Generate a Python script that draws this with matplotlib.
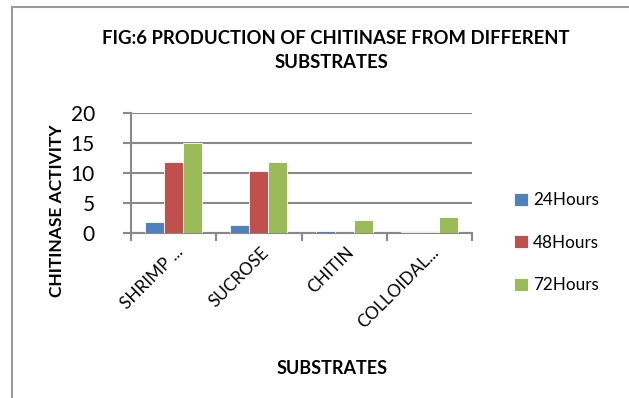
import matplotlib
matplotlib.use("Agg")
import matplotlib.pyplot as plt
from matplotlib.lines import Line2D
import matplotlib.transforms as mtransforms
import numpy as np

plt.rcParams['font.family'] = ['Lato', 'DejaVu Sans']

categories = ["SHRIMP ...", "SUCROSE", "CHITIN", "COLLOIDAL..."]
series_names = ["24Hours", "48Hours", "72Hours"]
h24 = [1.8, 1.3, 0.35, 0.25]
h48 = [11.9, 10.4, 0.0, 0.1]
h72 = [15.0, 11.8, 2.2, 2.6]
yticks = [0, 5, 10, 15, 20]
colors = ["#4F81BD", "#C0504D", "#9BBB59"]

W, H = 629, 398
fig = plt.figure(figsize=(W / 100, H / 100), dpi=100)
fig.patch.set_facecolor("white")

# chart border (left and top visible)
fig.add_artist(Line2D([11.5 / W, 11.5 / W], [0, 1 - 7 / H], color="#9a9a9a", lw=1.5))
fig.add_artist(Line2D([11.5 / W, 1], [1 - 7 / H, 1 - 7 / H], color="#9a9a9a", lw=1.5))

ax = fig.add_axes([131 / W, 1 - 233 / H, (472 - 131) / W, (233 - 113) / H])

n = len(categories)
x = np.arange(n) + 0.5
bw = 1 / 4.5
for i, (vals, c) in enumerate(zip([h24, h48, h72], colors)):
    ax.bar(x + (i - 1) * bw, vals, width=bw, color=c, edgecolor="white",
           linewidth=0.6, zorder=3, label=series_names[i])

ax.set_xlim(0, n)
ax.set_ylim(0, 20)
ax.set_yticks(yticks)
ax.set_yticklabels([str(v) for v in yticks], fontsize=15)
ax.yaxis.grid(True, color="#888888", lw=1.5, zorder=0)
ax.set_axisbelow(True)

ax.set_xticks(np.arange(n + 1))
ax.set_xticklabels([])
ax.set_xticks(x, minor=True)
ax.set_xticklabels(categories, minor=True, rotation=45, ha="right",
                   va="center", rotation_mode="anchor", fontsize=12.3)
ax.tick_params(axis="x", which="minor", length=0, pad=12)
ax.tick_params(axis="x", which="major", length=6, width=1.5, color="#888888", direction="out")
ax.tick_params(axis="y", length=6, width=1.5, color="#888888", direction="out", pad=20)

for s in ["top", "right"]:
    ax.spines[s].set_visible(False)
for s in ["left", "bottom"]:
    ax.spines[s].set_color("#888888")
    ax.spines[s].set_linewidth(1.5)

# shift minor labels a bit right
offset = mtransforms.ScaledTranslation(7 / 100, 0, fig.dpi_scale_trans)
for lbl in ax.xaxis.get_minorticklabels():
    lbl.set_transform(lbl.get_transform() + offset)

fig.text(336 / W, 1 - 38 / H, "FIG:6 PRODUCTION OF CHITINASE FROM DIFFERENT",
         ha="center", va="center", fontsize=13.3, fontweight="bold")
fig.text(331 / W, 1 - 63 / H, "SUBSTRATES",
         ha="center", va="center", fontsize=13.3, fontweight="bold")
fig.text(332 / W, 1 - 368 / H, "SUBSTRATES",
         ha="center", va="center", fontsize=13, fontweight="bold")
fig.text(57 / W, 1 - 211 / H, "CHITINASE ACTIVITY", rotation=90,
         ha="center", va="center", fontsize=12.5, fontweight="bold")

# legend
handles, labels = ax.get_legend_handles_labels()
leg = fig.legend(handles, labels, loc="center left",
                 bbox_to_anchor=(499 / W, 1 - 242.5 / H), frameon=False,
                 fontsize=12.3, handlelength=0.8, handleheight=0.8,
                 handletextpad=0.3, labelspacing=1.55)

fig.savefig("out.png", dpi=100)
